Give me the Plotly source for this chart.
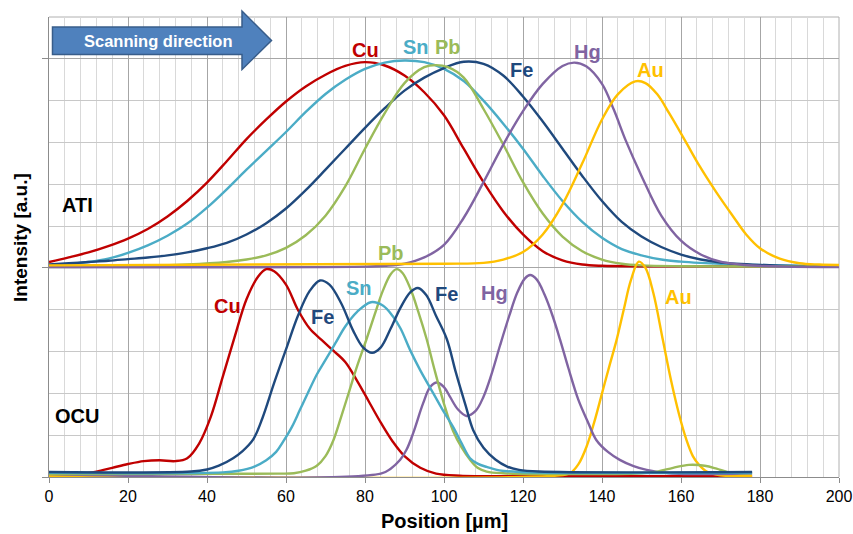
import plotly.graph_objects as go

# ---------------- data ----------------
# ATI panel (baseline at 5 on the shared intensity axis)
cu_ati_x = [0, 5, 10, 15, 20, 25, 30, 35, 40, 45, 50, 55, 60, 65, 70, 75, 80, 85, 90, 95, 100, 105, 110, 115, 120, 125, 130, 135, 140, 150, 160, 200]
cu_ati_y = [5.14, 5.25, 5.37, 5.52, 5.70, 5.93, 6.23, 6.6, 7.04, 7.55, 8.08, 8.55, 8.98, 9.34, 9.62, 9.83, 9.92, 9.84, 9.6, 9.2, 8.65, 7.85, 7.05, 6.35, 5.8, 5.4, 5.18, 5.08, 5.05, 5.04, 5.04, 5.04]

sn_ati_x = [0, 5, 10, 15, 20, 25, 30, 35, 40, 45, 50, 55, 60, 65, 70, 75, 80, 85, 90, 95, 100, 105, 110, 115, 120, 125, 130, 135, 140, 145, 150, 155, 160, 165, 175, 200]
sn_ati_y = [5.06, 5.09, 5.14, 5.22, 5.36, 5.54, 5.77, 6.06, 6.44, 6.88, 7.35, 7.8, 8.25, 8.73, 9.16, 9.5, 9.76, 9.91, 9.96, 9.92, 9.76, 9.47, 9.0, 8.45, 7.85, 7.2, 6.6, 6.1, 5.72, 5.45, 5.3, 5.2, 5.15, 5.12, 5.08, 5.04]

fe_ati_x = [0, 5, 10, 15, 20, 25, 30, 35, 40, 45, 50, 55, 60, 65, 70, 75, 80, 85, 90, 95, 100, 105, 110, 115, 120, 125, 130, 135, 140, 145, 150, 155, 160, 165, 170, 180, 190, 200]
fe_ati_y = [5.08, 5.11, 5.14, 5.17, 5.21, 5.25, 5.3, 5.37, 5.47, 5.6, 5.8, 6.07, 6.42, 6.86, 7.35, 7.85, 8.35, 8.82, 9.24, 9.55, 9.78, 9.93, 9.88, 9.6, 9.1, 8.5, 7.85, 7.2, 6.6, 6.1, 5.75, 5.5, 5.32, 5.2, 5.13, 5.07, 5.04, 5.03]

pb_ati_x = [0, 20, 35, 45, 50, 55, 60, 65, 70, 75, 80, 85, 90, 95, 98, 101, 105, 110, 115, 120, 125, 130, 135, 140, 145, 150, 160, 200]
pb_ati_y = [5.02, 5.04, 5.08, 5.14, 5.2, 5.3, 5.48, 5.78, 6.25, 6.95, 7.85, 8.7, 9.42, 9.8, 9.85, 9.8, 9.55, 8.8, 7.95, 7.05, 6.3, 5.75, 5.4, 5.2, 5.1, 5.06, 5.04, 5.03]

hg_ati_x = [0, 80, 85, 90, 95, 100, 105, 110, 115, 120, 125, 130, 133, 136, 140, 143, 146, 150, 155, 160, 165, 170, 176, 186, 200]
hg_ati_y = [5.02, 5.03, 5.05, 5.1, 5.25, 5.55, 6.2, 7.05, 7.95, 8.75, 9.4, 9.83, 9.91, 9.82, 9.4, 8.78, 8.05, 7.2, 6.25, 5.65, 5.32, 5.15, 5.07, 5.03, 5.02]

au_ati_x = [0, 100, 110, 115, 120, 125, 130, 135, 140, 144, 148.4, 151, 154, 157, 161, 164.8, 169, 173.2, 176.5, 180, 185, 190, 195, 200]
au_ati_y = [5.06, 5.1, 5.12, 5.2, 5.38, 5.8, 6.52, 7.5, 8.55, 9.15, 9.46, 9.42, 9.15, 8.7, 8.05, 7.42, 6.8, 6.23, 5.8, 5.47, 5.22, 5.11, 5.08, 5.07]

# OCU panel (baseline at 0)
cu_ocu_x = [0, 4, 8, 12, 16, 20, 24, 28, 32, 35, 38, 41, 44, 47, 50, 53, 55, 57, 60, 63, 66, 69, 72, 75, 78, 81, 84, 87, 90, 94, 98, 104, 110, 178]
cu_ocu_y = [0.0, 0.03, 0.07, 0.13, 0.22, 0.31, 0.38, 0.40, 0.38, 0.45, 0.8, 1.45, 2.4, 3.35, 4.25, 4.8, 4.97, 4.92, 4.6, 4.0, 3.55, 3.28, 3.02, 2.75, 2.3, 1.8, 1.3, 0.85, 0.5, 0.22, 0.08, 0.03, 0.02, 0.02]

fe_ocu_x = [0, 36, 40, 43, 46.6, 49, 51.7, 54, 57, 60, 63, 66, 68.6, 71, 74, 77, 79.5, 81.8, 84, 86.5, 89, 91.5, 93.4, 95.5, 98, 100.7, 103, 105.5, 107.4, 110, 113, 116, 119, 124, 178]
fe_ocu_y = [0.12, 0.13, 0.18, 0.27, 0.45, 0.62, 0.9, 1.4, 2.25, 3.05, 3.85, 4.45, 4.7, 4.6, 4.15, 3.5, 3.1, 2.97, 3.1, 3.55, 4.05, 4.42, 4.52, 4.35, 3.85, 3.3, 2.5, 1.7, 1.12, 0.7, 0.42, 0.25, 0.17, 0.13, 0.12]

sn_ocu_x = [0, 44, 48, 52, 55, 57.5, 59.3, 61.5, 63.5, 65.5, 67.8, 70, 72.5, 75, 78, 81.5, 84.5, 87, 89, 91.4, 94, 97.3, 100, 102.3, 104.5, 106.6, 108.5, 110.8, 114, 119, 178]
sn_ocu_y = [0.1, 0.11, 0.15, 0.25, 0.4, 0.6, 0.85, 1.2, 1.6, 2.0, 2.45, 2.8, 3.2, 3.6, 3.95, 4.18, 4.1, 3.85, 3.55, 3.04, 2.55, 2.0, 1.55, 1.2, 0.8, 0.45, 0.32, 0.24, 0.16, 0.12, 0.1]

pb_ocu_x = [0, 58, 62, 65, 67.8, 70, 72, 74, 76, 78, 80.4, 82.5, 84.5, 86.5, 88, 89.5, 91.5, 93.5, 95.6, 97.5, 100, 102.3, 104.5, 106.6, 108.5, 110.8, 115, 150, 154, 158, 162, 166, 169, 172, 175, 178]
pb_ocu_y = [0.07, 0.08, 0.09, 0.15, 0.27, 0.5, 0.88, 1.45, 2.05, 2.65, 3.3, 3.9, 4.45, 4.85, 4.97, 4.88, 4.5, 3.95, 3.3, 2.6, 1.75, 1.1, 0.7, 0.41, 0.22, 0.13, 0.09, 0.09, 0.13, 0.22, 0.29, 0.27, 0.2, 0.11, 0.09, 0.09]

hg_ocu_x = [0, 84, 86.5, 88.9, 90.5, 92.2, 94.7, 96.5, 98.2, 100, 101.5, 103.5, 105.7, 108, 110, 112, 114.2, 116.5, 118.5, 120.5, 121.8, 123.5, 125.5, 127.5, 129.4, 131.5, 134, 136.5, 138.6, 141.5, 144.5, 148, 151.3, 157, 178]
hg_ocu_y = [0.07, 0.08, 0.2, 0.41, 0.65, 1.05, 1.76, 2.15, 2.26, 2.15, 1.92, 1.62, 1.46, 1.58, 1.92, 2.45, 3.15, 3.85, 4.4, 4.75, 4.83, 4.72, 4.35, 3.85, 3.28, 2.6, 1.85, 1.3, 0.88, 0.6, 0.41, 0.26, 0.17, 0.09, 0.08]

au_ocu_x = [0, 128, 131.9, 134, 136.1, 138, 140, 142, 143.7, 145.5, 147.3, 149.3, 151, 153, 155.4, 157.5, 159.5, 161.4, 163, 164.5, 166.5, 170, 178]
au_ocu_y = [0.02, 0.03, 0.09, 0.3, 0.73, 1.3, 2.0, 2.7, 3.28, 4.0, 4.7, 5.15, 5.0, 4.4, 3.28, 2.3, 1.5, 0.88, 0.5, 0.3, 0.13, 0.04, 0.03]

x_ticks = [0, 20, 40, 60, 80, 100, 120, 140, 160, 180, 200]

colors = {"Cu": "#C00000", "Sn": "#4BACC6", "Pb": "#9BBB59",
          "Fe": "#1F497D", "Hg": "#8064A2", "Au": "#FFC000"}

FONT = "Liberation Sans, Arial, Helvetica, sans-serif"

# ---------------- figure ----------------
W, H = 853, 534
L, R, T, B = 49, 14, 17, 57
PW, PH = W - L - R, H - T - B


def px(x):
    return (x - L) / PW


def py(y):
    return (H - B - y) / PH


fig = go.Figure()

series = [
    ("Cu", cu_ati_x, cu_ati_y), ("Sn", sn_ati_x, sn_ati_y), ("Fe", fe_ati_x, fe_ati_y),
    ("Pb", pb_ati_x, pb_ati_y), ("Hg", hg_ati_x, hg_ati_y), ("Au", au_ati_x, au_ati_y),
    ("Cu", cu_ocu_x, cu_ocu_y), ("Au", au_ocu_x, au_ocu_y), ("Hg", hg_ocu_x, hg_ocu_y),
    ("Pb", pb_ocu_x, pb_ocu_y), ("Sn", sn_ocu_x, sn_ocu_y), ("Fe", fe_ocu_x, fe_ocu_y),
]
for name, xs, ys in series:
    fig.add_trace(go.Scatter(x=xs, y=ys, mode="lines", name=name,
                             line=dict(color=colors[name], width=2.4, shape="spline", smoothing=1.0),
                             showlegend=False, hoverinfo="skip"))

fig.update_xaxes(range=[0, 200], tickvals=x_ticks, ticktext=[str(v) for v in x_ticks],
                 showgrid=True, gridcolor="#a6a6a6", gridwidth=1,
                 ticks="outside", ticklen=5, tickcolor="#8c8c8c",
                 showline=True, linecolor="#8c8c8c", linewidth=1,
                 zeroline=False, automargin=False,
                 minor=dict(dtick=4, showgrid=True, gridcolor="#d9d9d9", gridwidth=1, ticks=""),
                 tickfont=dict(family=FONT, size=16, color="black"))
fig.update_yaxes(range=[0, 11], tickvals=[0, 5, 10], showticklabels=False,
                 showgrid=True, gridcolor="#a6a6a6", gridwidth=1,
                 ticks="outside", ticklen=6, tickcolor="#8c8c8c",
                 showline=True, linecolor="#8c8c8c", linewidth=1,
                 zeroline=False, automargin=False,
                 minor=dict(dtick=1, showgrid=True, gridcolor="#c8c8c8", gridwidth=1, ticks=""))

# top and right border
fig.add_shape(type="line", xref="paper", yref="paper", x0=0, x1=1, y0=1, y1=1,
              line=dict(color="#b0b0b0", width=1), layer="below")
fig.add_shape(type="line", xref="paper", yref="paper", x0=1, x1=1, y0=0, y1=1,
              line=dict(color="#b0b0b0", width=1), layer="below")

# scanning direction arrow
ax_pts = [(52.5, 27), (242, 27), (242, 11), (271.5, 40.5), (242, 69.5), (242, 54.5), (52.5, 54.5)]
path = "M " + " L ".join(f"{px(a):.5f},{py(b):.5f}" for a, b in ax_pts) + " Z"
fig.add_shape(type="path", xref="paper", yref="paper", path=path,
              fillcolor="#4F81BD", line=dict(color="#385D8A", width=1.5), layer="above")

annotations = [
    dict(text="<b>Scanning direction</b>", x=px(158), y=py(41.5), color="white", size=16.5),
    dict(text="<b>ATI</b>", x=px(77), y=py(205), color="black", size=20),
    dict(text="<b>OCU</b>", x=px(77), y=py(416), color="black", size=20),
    # ATI labels
    dict(text="<b>Cu</b>", x=px(365), y=py(50), color=colors["Cu"], size=20),
    dict(text="<b>Sn</b>", x=px(416), y=py(47), color=colors["Sn"], size=20),
    dict(text="<b>Pb</b>", x=px(448), y=py(47), color=colors["Pb"], size=20),
    dict(text="<b>Fe</b>", x=px(521), y=py(70), color=colors["Fe"], size=20),
    dict(text="<b>Hg</b>", x=px(587), y=py(52), color=colors["Hg"], size=20),
    dict(text="<b>Au</b>", x=px(650), y=py(70), color=colors["Au"], size=20),
    # OCU labels
    dict(text="<b>Cu</b>", x=px(227), y=py(306), color=colors["Cu"], size=20),
    dict(text="<b>Fe</b>", x=px(322), y=py(317), color=colors["Fe"], size=20),
    dict(text="<b>Sn</b>", x=px(359), y=py(288), color=colors["Sn"], size=20),
    dict(text="<b>Pb</b>", x=px(391), y=py(253), color=colors["Pb"], size=20),
    dict(text="<b>Fe</b>", x=px(446), y=py(294), color=colors["Fe"], size=20),
    dict(text="<b>Hg</b>", x=px(494), y=py(293), color=colors["Hg"], size=20),
    dict(text="<b>Au</b>", x=px(678), y=py(297), color=colors["Au"], size=20),
]
for a in annotations:
    fig.add_annotation(text=a["text"], x=a["x"], y=a["y"], xref="paper", yref="paper",
                       xanchor="center", yanchor="middle", showarrow=False,
                       font=dict(family=FONT, size=a["size"], color=a["color"]))

fig.add_annotation(text="<b>Intensity [a.u.]</b>", x=px(20), y=py(238), xref="paper", yref="paper",
                   textangle=-90, showarrow=False, xanchor="center", yanchor="middle",
                   font=dict(family=FONT, size=19, color="black"))
fig.add_annotation(text="<b>Position [µm]</b>", x=px(444), y=py(521), xref="paper", yref="paper",
                   showarrow=False, xanchor="center", yanchor="middle",
                   font=dict(family=FONT, size=20, color="black"))

fig.update_layout(width=W, height=H, margin=dict(l=L, r=R, t=T, b=B),
                  paper_bgcolor="white", plot_bgcolor="white",
                  font=dict(family=FONT, color="black"))

fig.write_html("out.html")
